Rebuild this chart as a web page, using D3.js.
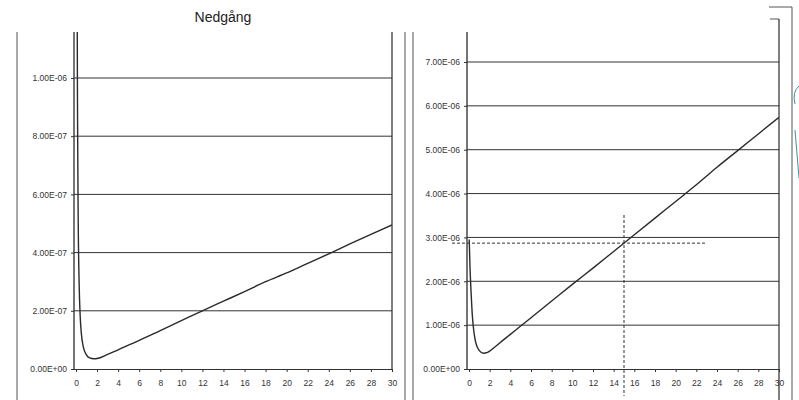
<!DOCTYPE html>
<html lang="sv">
<head>
<meta charset="UTF-8">
<title>Nedgång</title>
<script src="https://d3js.org/d3.v7.min.js"></script>
<style>
  body { margin: 0; background: #fff; }
  svg { display: block; font-family: "Liberation Sans", Arial, sans-serif; }
  .tick text { font-size: 8.5px; fill: #333; }
  .tick line, .domain { stroke: #333; }
</style>
</head>
<body>
<svg id="chart" width="799" height="400"></svg>
<script>
// left panel (values in units of 1e-7 -> scaled below)
const leftX = [0.05, 0.1, 0.15, 0.2, 0.3, 0.4, 0.5, 0.7, 1.0, 1.3, 1.7, 2, 3, 4, 6, 8, 10, 12, 14, 16, 18, 20, 22, 24, 26, 28, 30];
const leftY = [30, 14, 8.5, 5.5, 2.9, 1.8, 1.25, 0.75, 0.48, 0.38, 0.35, 0.36, 0.5, 0.66, 0.98, 1.32, 1.66, 2.0, 2.33, 2.66, 3.0, 3.3, 3.63, 3.96, 4.3, 4.63, 4.95];
const leftTicks = [0, 2e-7, 4e-7, 6e-7, 8e-7, 1e-6];
const leftTickLabels = ["0.00E+00", "2.00E-07", "4.00E-07", "6.00E-07", "8.00E-07", "1.00E-06"];

// right panel (values in units of 1e-6)
const rightX = [0.02, 0.1, 0.2, 0.3, 0.4, 0.6, 0.8, 1.0, 1.4, 1.8, 2.5, 3, 4, 5, 6, 8, 10, 12, 14, 16, 18, 20, 22, 24, 26, 28, 30];
const rightY = [2.95, 2.3, 1.75, 1.3, 1.0, 0.66, 0.5, 0.42, 0.36, 0.38, 0.5, 0.6, 0.79, 0.98, 1.17, 1.55, 1.93, 2.3, 2.68, 3.06, 3.44, 3.82, 4.2, 4.6, 4.98, 5.36, 5.74];
const rightTicks = [0, 1e-6, 2e-6, 3e-6, 4e-6, 5e-6, 6e-6, 7e-6];
const rightTickLabels = ["0.00E+00", "1.00E-06", "2.00E-06", "3.00E-06", "4.00E-06", "5.00E-06", "6.00E-06", "7.00E-06"];

// marker
const markX = 15;
const markY = 2.87e-6;

const xTicks = d3.range(0, 31, 2);

const svg = d3.select('#chart');
const ink = '#2a2a2a';

// page / frame lines from the scan
const frame = [
  [17, 32, 17, 400],
  [405, 32, 405, 400],
  [413, 32, 413, 400],
  [770, 19, 779, 19],
  [769, 7, 792, 7],
  [792, 7, 792, 400]
];
svg.selectAll('.frame').data(frame).join('line')
  .attr('class', 'frame')
  .attr('x1', d => d[0]).attr('y1', d => d[1])
  .attr('x2', d => d[2]).attr('y2', d => d[3])
  .attr('stroke', '#555').attr('stroke-width', 1);

svg.append('text')
  .attr('x', 223).attr('y', 22)
  .attr('text-anchor', 'middle')
  .style('font-size', '14px')
  .style('fill', '#222')
  .text('Nedgång');

const drawPanel = (cfg) => {
  const x = d3.scaleLinear().domain([0, 30]).range([cfg.x0, cfg.x1]);
  const y = d3.scaleLinear().domain([0, cfg.ticks[cfg.ticks.length - 1]]).range([369, cfg.yTop]);
  const g = svg.append('g');

  const clipId = 'clip' + cfg.x0;
  g.append('clipPath').attr('id', clipId)
    .append('rect')
    .attr('x', cfg.axisX).attr('y', 32)
    .attr('width', cfg.x1 - cfg.axisX).attr('height', 369 - 32);

  // gridlines
  g.selectAll('.grid').data(cfg.ticks.slice(1)).join('line')
    .attr('x1', cfg.axisX).attr('x2', cfg.x1)
    .attr('y1', d => y(d)).attr('y2', d => y(d))
    .attr('stroke', '#333').attr('stroke-width', 1);

  // plot borders
  g.append('line')
    .attr('x1', cfg.axisX).attr('x2', cfg.axisX)
    .attr('y1', 32).attr('y2', 369)
    .attr('stroke', ink).attr('stroke-width', 1.3);
  g.append('line')
    .attr('x1', cfg.x1).attr('x2', cfg.x1)
    .attr('y1', cfg.rightTop).attr('y2', cfg.rightBottom)
    .attr('stroke', ink).attr('stroke-width', 1.2);

  // y axis
  const yAxis = d3.axisLeft(y)
    .tickValues(cfg.ticks)
    .tickSize(3)
    .tickFormat((d, i) => cfg.labels[i]);
  g.append('g')
    .attr('transform', `translate(${cfg.axisX},0)`)
    .call(yAxis)
    .call(a => a.select('.domain').remove())
    .selectAll('text').attr('dx', '-1');

  // x axis
  const xAxis = d3.axisBottom(x)
    .tickValues(xTicks)
    .tickSize(3)
    .tickSizeOuter(0);
  g.append('g')
    .attr('transform', 'translate(0,369)')
    .call(xAxis)
    .call(a => a.select('.domain').attr('d', `M${cfg.axisX},0.5H${cfg.x1}`))
    .selectAll('text').attr('dy', '1.25em');

  // series
  const pts = cfg.xs.map((v, i) => [v, cfg.ys[i] * cfg.unit]);
  const line = d3.line()
    .curve(d3.curveMonotoneX)
    .x(d => x(d[0])).y(d => y(d[1]));
  g.append('path')
    .datum(pts)
    .attr('clip-path', `url(#${clipId})`)
    .attr('d', line)
    .attr('fill', 'none')
    .attr('stroke', ink)
    .attr('stroke-width', 1.4);

  return { x, y, g };
};

drawPanel({
  x0: 76, x1: 392, axisX: 74, yTop: 78, rightTop: 32, rightBottom: 369,
  ticks: leftTicks, labels: leftTickLabels,
  xs: leftX, ys: leftY, unit: 1e-7
});

const right = drawPanel({
  x0: 469, x1: 779, axisX: 467, yTop: 62, rightTop: 19, rightBottom: 400,
  ticks: rightTicks, labels: rightTickLabels,
  xs: rightX, ys: rightY, unit: 1e-6
});

// dashed reading lines
right.g.append('line')
  .attr('x1', 452).attr('x2', right.x(23))
  .attr('y1', right.y(markY)).attr('y2', right.y(markY))
  .attr('stroke', '#333').attr('stroke-width', 1)
  .attr('stroke-dasharray', '3,2');
right.g.append('line')
  .attr('x1', right.x(markX)).attr('x2', right.x(markX))
  .attr('y1', 215).attr('y2', 396)
  .attr('stroke', '#333').attr('stroke-width', 1)
  .attr('stroke-dasharray', '3,2');

// teal pen marks at the right edge of the scan
svg.append('path')
  .attr('d', 'M799,86 Q792,92 795,104 M795,130 L799,178')
  .attr('fill', 'none')
  .attr('stroke', '#3f8fa3')
  .attr('stroke-width', 1);
</script>
</body>
</html>
